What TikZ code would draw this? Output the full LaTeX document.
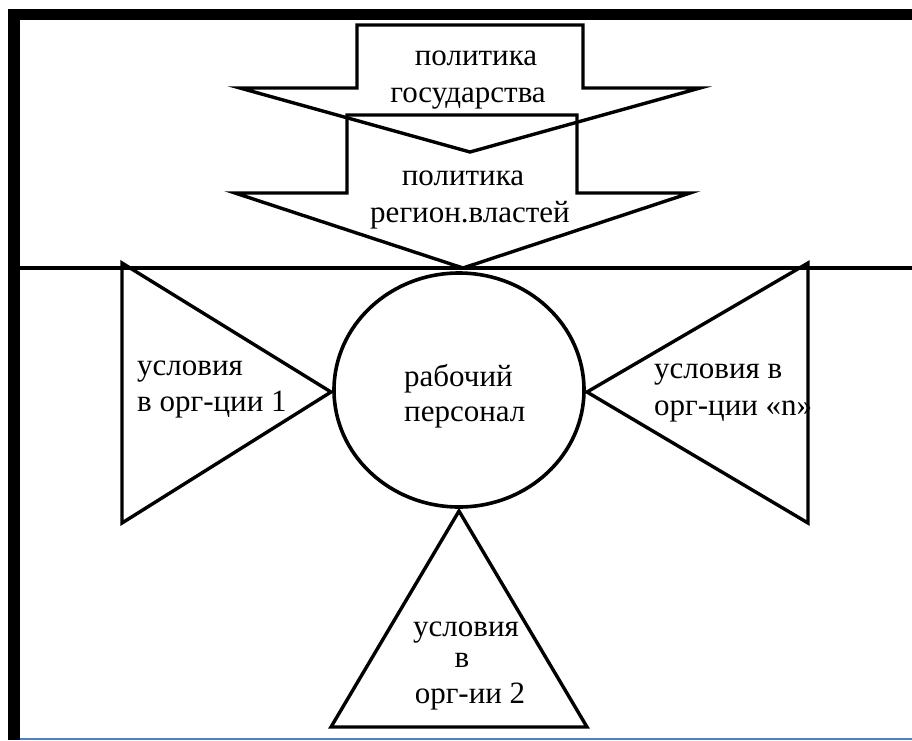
\documentclass[tikz,border=0pt]{standalone}
\usepackage{fontspec}
\setmainfont{Liberation Serif}
\usetikzlibrary{shapes.geometric}
\definecolor{framebl}{RGB}{79,129,189}
\begin{document}
\begin{tikzpicture}[x=1pt,y=-1pt,
  txt/.style={inner sep=0pt,font=\fontsize{31}{37}\selectfont},
  outl/.style={draw=black,line width=3.4pt,line join=miter}]
\useasboundingbox (0,0) rectangle (912,740);
\fill[white] (0,0) rectangle (912,740);
% frame
\fill[black] (8,9) rectangle (912,20);
\fill[black] (8,9) rectangle (20,740);
\draw[framebl,line width=1.5pt] (20,739) -- (912,739);
\draw[black,line width=4pt] (20,268) -- (912,268);
% arrows
\draw[outl] (357,25) -- (583,25) -- (583,88) -- (700,88) -- (470,152) -- (240,88) -- (357,88) -- cycle;
\draw[outl] (347,115) -- (577,115) -- (577,193) -- (690,193) -- (463,268) -- (235,193) -- (347,193) -- cycle;
% triangles
\draw[outl] (122,263) -- (331,392) -- (122,523) -- cycle;
\draw[outl] (808,263) -- (587,392) -- (808,523) -- cycle;
\draw[outl] (459,511) -- (587,727) -- (331,727) -- cycle;
% ellipse
\node[draw,ellipse,line width=3.6pt,minimum width=250pt,minimum height=234pt,inner sep=0pt] (pers) at (459,390) {};
% texts
\node[txt,anchor=base] (t1) at (476,65) {политика};
\node[txt,anchor=base] (t2) at (468,102) {государства};
\node[txt,anchor=base] (t3) at (463,185) {политика};
\node[txt,anchor=base] (t4) at (470,222) {регион.властей};
\node[txt,anchor=base west] (t5) at (404,386) {рабочий};
\node[txt,anchor=base west] (t6) at (404,421) {персонал};
\node[txt,anchor=base west] (t7) at (137,375) {условия};
\node[txt,anchor=base west] (t8) at (137,411) {в орг-ции 1};
\node[txt,anchor=base west] (t9) at (654,378) {условия в};
\node[txt,anchor=base west] (t10) at (654,415) {орг-ции «n»};
\node[txt,anchor=base] (t11) at (466,636) {условия};
\node[txt,anchor=base] (t12) at (462,667) {в};
\node[txt,anchor=base] (t13) at (470,703) {орг-ии 2};
\end{tikzpicture}
\end{document}
